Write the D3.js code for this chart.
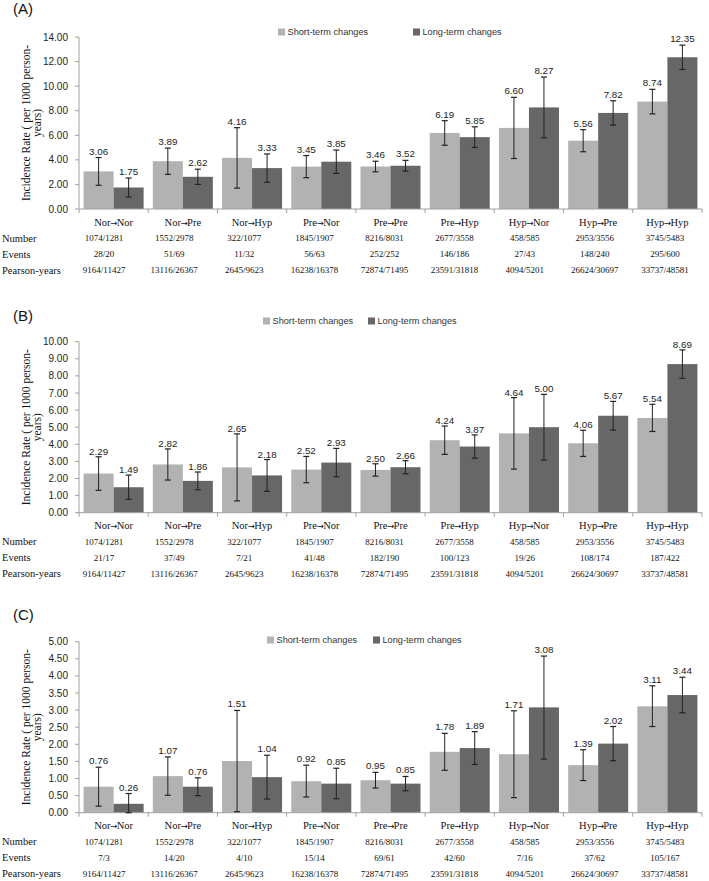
<!DOCTYPE html>
<html><head><meta charset="utf-8">
<script src="https://cdn.jsdelivr.net/npm/d3@7/dist/d3.min.js"></script>
<style>body{margin:0;background:#fff}svg{display:block}</style>
</head><body>
<svg id="chart" width="709" height="881"></svg>
<script>
const categories = ["Nor→Nor","Nor→Pre","Nor→Hyp","Pre→Nor","Pre→Pre","Pre→Hyp","Hyp→Nor","Hyp→Pre","Hyp→Hyp"];
const seriesNames = ["Short-term changes","Long-term changes"];
const rowLabels = ["Number","Events","Pearson-years"];

// Panel A
const shortA = [3.06,3.89,4.16,3.45,3.46,6.19,6.60,5.56,8.74];
const longA  = [1.75,2.62,3.33,3.85,3.52,5.85,8.27,7.82,12.35];
const shortA_lo = [1.93,2.82,1.70,2.55,3.03,5.19,4.11,4.66,7.74];
const shortA_hi = [4.19,4.96,6.62,4.35,3.89,7.19,9.09,6.46,9.74];
const longA_lo  = [0.98,2.00,2.18,2.90,3.09,5.01,5.80,6.83,11.36];
const longA_hi  = [2.52,3.24,4.48,4.80,3.96,6.69,10.74,8.81,13.34];
// Panel B
const shortB = [2.29,2.82,2.65,2.52,2.50,4.24,4.64,4.06,5.54];
const longB  = [1.49,1.86,2.18,2.93,2.66,3.87,5.00,5.67,8.69];
const shortB_lo = [1.31,1.91,0.69,1.75,2.14,3.41,2.55,3.29,4.75];
const shortB_hi = [3.27,3.73,4.61,3.29,2.86,5.07,6.73,4.82,6.34];
const longB_lo  = [0.78,1.34,1.25,2.10,2.28,3.19,3.08,4.83,7.86];
const longB_hi  = [2.20,2.38,3.11,3.76,3.04,4.55,6.92,6.51,9.52];
// Panel C
const shortC = [0.76,1.07,1.51,0.92,0.95,1.78,1.71,1.39,3.11];
const longC  = [0.26,0.76,1.04,0.85,0.85,1.89,3.08,2.02,3.44];
const shortC_lo = [0.19,0.51,0.03,0.46,0.72,1.24,0.44,0.94,2.52];
const shortC_hi = [1.33,1.63,2.99,1.39,1.18,2.32,2.98,1.84,3.71];
const longC_lo  = [0.00,0.50,0.40,0.41,0.64,1.41,1.57,1.52,2.92];
const longC_hi  = [0.56,1.02,1.68,1.30,1.06,2.37,4.58,2.52,3.96];

// Table rows
const numbers = ["1074/1281","1552/2978","322/1077","1845/1907","8216/8031","2677/3558","458/585","2953/3556","3745/5483"];
const eventsA = ["28/20","51/69","11/32","56/63","252/252","146/186","27/43","148/240","295/600"];
const eventsB = ["21/17","37/49","7/21","41/48","182/190","100/123","19/26","108/174","187/422"];
const eventsC = ["7/3","14/20","4/10","15/14","69/61","42/60","7/16","37/62","105/167"];
const personYears = ["9164/11427","13116/26367","2645/9623","16238/16378","72874/71495","23591/31818","4094/5201","26624/30697","33737/48581"];

// Y axis settings (max, step)
const yMaxA = 14, yStepA = 2;
const yMaxB = 10, yStepB = 1;
const yMaxC = 5,  yStepC = 0.5;

const panelLabels = ["(A)","(B)","(C)"];

// Layout (not data)
const layout = [
  {top:37, bottom:209, labelY:14, legendY:32, legX:[278,413], lblOff:3},
  {top:341.7, bottom:512.7, labelY:321, legendY:321, legX:[263,368], lblOff:2},
  {top:641.7, bottom:812.7, labelY:620, legendY:640, legX:[267,373], lblOff:3}
];
const panels = [
  {name:panelLabels[0], s:shortA, l:longA, sLo:shortA_lo, sHi:shortA_hi, lLo:longA_lo, lHi:longA_hi, ev:eventsA, yMax:yMaxA, yStep:yStepA},
  {name:panelLabels[1], s:shortB, l:longB, sLo:shortB_lo, sHi:shortB_hi, lLo:longB_lo, lHi:longB_hi, ev:eventsB, yMax:yMaxB, yStep:yStepB},
  {name:panelLabels[2], s:shortC, l:longC, sLo:shortC_lo, sHi:shortC_hi, lLo:longC_lo, lHi:longC_hi, ev:eventsC, yMax:yMaxC, yStep:yStepC}
];

const colors = ["#b2b2b2","#676767"];
const axisColor = "#a0a0a0";
const sans = "'Liberation Sans', Arial, sans-serif";
const serif = "'Liberation Serif', 'Times New Roman', serif";
const fmt = d3.format(".2f");

const svg = d3.select("#chart");
const xLeft = 79, xRight = 702;

const x = d3.scaleBand().domain(categories).range([xLeft, xRight]).paddingInner(0.133).paddingOuter(0.0665);
const xs = d3.scaleBand().domain(["s","l"]).range([0, x.bandwidth()]);
const xb = d3.scaleLinear().domain([0, categories.length]).range([xLeft, xRight]);
const xt = d3.scaleBand().domain(categories).range([69, 700]);

panels.forEach((p, pi) => {
  const L = layout[pi];
  const g = svg.append("g");
  const y = d3.scaleLinear().domain([0, p.yMax]).range([L.bottom, L.top]);
  const ticks = d3.range(0, p.yMax + p.yStep/2, p.yStep);

  g.append("text").attr("x", 13).attr("y", L.labelY).attr("font-family", sans)
    .attr("font-size", 15).attr("fill", "#111").text(p.name);

  seriesNames.forEach((n, i) => {
    g.append("rect").attr("x", L.legX[i]).attr("y", L.legendY - 3.5).attr("width", 7).attr("height", 7).attr("fill", colors[i]);
    g.append("text").attr("x", L.legX[i] + 9.5).attr("y", L.legendY).attr("dy", "0.35em")
      .attr("font-family", sans).attr("font-size", 9.2).attr("fill", "#333").text(n);
  });

  g.append("line").attr("x1", xLeft).attr("x2", xLeft).attr("y1", L.top).attr("y2", L.bottom).attr("stroke", axisColor);
  ticks.forEach(t => {
    g.append("line").attr("x1", xLeft - 4).attr("x2", xLeft).attr("y1", y(t)).attr("y2", y(t)).attr("stroke", axisColor);
    g.append("text").attr("x", 68).attr("y", y(t)).attr("dy", "0.35em").attr("text-anchor", "end")
      .attr("font-family", sans).attr("font-size", 10).attr("fill", "#222").text(fmt(t));
  });

  const cy = (L.top + L.bottom) / 2;
  g.append("text").attr("transform", `translate(26,${cy}) rotate(-90)`).attr("dy", "0.35em")
    .attr("text-anchor", "middle").attr("font-family", serif).attr("font-size", 11.5).attr("fill", "#111")
    .text("Incidence Rate ( per 1000 person-");
  g.append("text").attr("transform", `translate(37,${cy}) rotate(-90)`).attr("dy", "0.35em")
    .attr("text-anchor", "middle").attr("font-family", serif).attr("font-size", 11.5).attr("fill", "#111")
    .text("years)");

  const series = [
    {k:"s", v:p.s, lo:p.sLo, hi:p.sHi, c:colors[0]},
    {k:"l", v:p.l, lo:p.lLo, hi:p.lHi, c:colors[1]}
  ];
  series.forEach(se => {
    const bw = xs.bandwidth();
    categories.forEach((cat, i) => {
      const bx = x(cat) + xs(se.k);
      g.append("rect").attr("x", bx).attr("y", y(se.v[i])).attr("width", bw)
        .attr("height", y(0) - y(se.v[i])).attr("fill", se.c);
    });
  });

  g.append("line").attr("x1", xLeft).attr("x2", xRight).attr("y1", L.bottom).attr("y2", L.bottom).attr("stroke", axisColor);
  d3.range(0, categories.length + 1).forEach(i => {
    g.append("line").attr("x1", xb(i)).attr("x2", xb(i)).attr("y1", L.bottom).attr("y2", L.bottom + 4).attr("stroke", axisColor);
  });

  series.forEach(se => {
    const bw = xs.bandwidth();
    categories.forEach((cat, i) => {
      const cx = x(cat) + xs(se.k) + bw / 2;
      const yh = y(se.hi[i]), yl = y(se.lo[i]);
      g.append("line").attr("x1", cx).attr("x2", cx).attr("y1", yh).attr("y2", yl).attr("stroke", "#222").attr("stroke-width", 1);
      g.append("line").attr("x1", cx - 3).attr("x2", cx + 3).attr("y1", yh).attr("y2", yh).attr("stroke", "#222").attr("stroke-width", 1.2);
      g.append("line").attr("x1", cx - 3).attr("x2", cx + 3).attr("y1", yl).attr("y2", yl).attr("stroke", "#222").attr("stroke-width", 1.2);
      g.append("text").attr("x", cx).attr("y", yh - L.lblOff).attr("text-anchor", "middle")
        .attr("font-family", sans).attr("font-size", 9.8).attr("fill", "#222").text(fmt(se.v[i]));
    });
  });

  categories.forEach(cat => {
    const parts = cat.split("→");
    const t = g.append("text").attr("x", x(cat) + x.bandwidth() / 2).attr("y", L.bottom + 13).attr("dy", "0.35em")
      .attr("text-anchor", "middle").attr("font-family", serif).attr("font-size", 10.5).attr("fill", "#111");
    t.append("tspan").text(parts[0]);
    t.append("tspan").attr("font-family", "'DejaVu Sans', sans-serif").attr("font-size", 8.5).attr("dx", -0.5).text("→");
    t.append("tspan").attr("dx", -0.5).text(parts[1]);
  });

  const rows = [numbers, p.ev, personYears];
  rows.forEach((row, ri) => {
    const ry = L.bottom + 29 + ri * 16;
    g.append("text").attr("x", 2).attr("y", ry).attr("dy", "0.35em").attr("font-family", serif)
      .attr("font-size", 10.5).attr("fill", "#111").text(rowLabels[ri]);
    row.forEach((val, ci) => {
      g.append("text").attr("x", xt(categories[ci]) + xt.bandwidth() / 2).attr("y", ry).attr("dy", "0.35em")
        .attr("text-anchor", "middle").attr("font-family", serif).attr("font-size", 9).attr("fill", "#111").text(val);
    });
  });
});
</script>
</body></html>
